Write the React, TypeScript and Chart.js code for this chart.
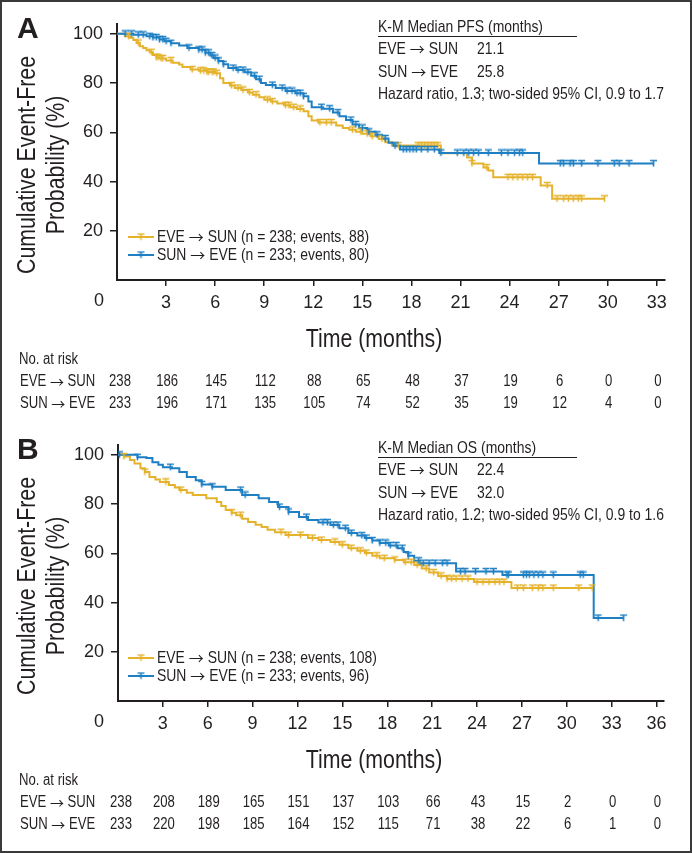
import React, { useEffect, useRef } from 'react';
import { Chart, registerables } from 'chart.js';
Chart.register(...registerables);

const YELLOW = '#E5B22C';
const BLUE = '#1E7FC3';
const INK = '#231F20';
const FONT = '"Liberation Sans", Arial, sans-serif';
const ARROW_FONT = '"Noto Sans CJK JP", "DejaVu Sans", sans-serif';
const NARROW = 0.82;

// ---------- Panel A: PFS ----------
const pfsXTicks = [3, 6, 9, 12, 15, 18, 21, 24, 27, 30, 33];
const pfsRiskTimes = [0, 3, 6, 9, 12, 15, 18, 21, 24, 27, 30, 33];
const pfsRiskEve = [238, 186, 145, 112, 88, 65, 48, 37, 19, 6, 0, 0];
const pfsRiskSun = [233, 196, 171, 135, 105, 74, 52, 35, 19, 12, 4, 0];

const pfsEveTimes = [0, 0.5, 0.8, 1.0, 1.2, 1.4, 1.6, 1.8, 2.0, 2.2, 2.4, 2.6, 3.0, 3.4, 3.8, 4.0, 4.5, 5.0, 5.5, 6.0, 6.3, 6.5, 6.9, 7.2, 7.6, 8.0, 8.3, 8.7, 9.0, 9.4, 9.8, 10.2, 10.6, 11.0, 11.4, 11.7, 11.9, 12.3, 13.4, 13.8, 14.2, 14.6, 15.0, 15.5, 16.0, 16.4, 16.8, 19.8, 21.4, 21.7, 22.4, 22.7, 23.0, 25.9, 26.6, 29.8];
const pfsEveSurv = [100, 99, 98.4, 97.5, 96.3, 95, 94.2, 93.3, 92.5, 91.4, 90.5, 90, 89.2, 88.3, 87.5, 86.5, 85.5, 85, 84.5, 84, 82, 80, 79, 78, 77.2, 76.2, 75.3, 74.2, 73.2, 72.5, 71.7, 71, 70.2, 69.5, 68.6, 66.5, 64.8, 64, 62.8, 61.8, 61, 60.2, 59.4, 58.4, 57.3, 56, 54.6, 51.5, 49.8, 47.3, 45.7, 44.5, 41.7, 38.4, 33, 33];
const pfsEveCensor = [0.7, 1.3, 2.1, 2.4, 2.5, 2.7, 2.8, 3.3, 4.6, 5.1, 5.3, 5.5, 5.6, 5.8, 5.9, 6.1, 7.0, 7.4, 7.7, 8.1, 8.5, 9.2, 9.5, 10.3, 10.5, 10.8, 11.2, 12.4, 12.8, 13.1, 14.4, 14.9, 15.3, 15.6, 16.2, 17.2, 18.4, 18.6, 18.8, 19.0, 19.2, 19.4, 19.6, 21.7, 22.6, 23.9, 24.2, 24.5, 24.8, 25.1, 25.4, 26.3, 26.9, 27.3, 27.6, 27.9, 28.2, 28.4, 29.8];

const pfsSunTimes = [0, 1.0, 1.8, 2.2, 2.6, 2.9, 3.3, 3.8, 4.3, 5.0, 5.4, 5.7, 5.9, 6.2, 6.5, 6.8, 7.3, 7.8, 8.2, 8.5, 8.8, 9.1, 9.7, 10.3, 10.9, 11.4, 11.7, 11.9, 12.6, 13.2, 13.6, 14.0, 14.4, 14.8, 15.3, 15.8, 16.2, 16.6, 16.9, 17.3, 19.7, 25.8, 32.8];
const pfsSunSurv = [100, 99.6, 99, 98.5, 97.7, 97, 96.2, 95.3, 94.3, 93.5, 92.3, 91.2, 90.2, 89, 87.6, 86.1, 85.3, 84.4, 83, 81.6, 80, 79.2, 78, 76.8, 75.9, 74.6, 72.5, 70.2, 69.6, 68, 66.5, 65, 63.2, 61.8, 60.2, 59, 57.5, 55.8, 54.5, 53, 51.6, 47.3, 47.3];
const pfsSunCensor = [0.5, 0.9, 1.3, 1.6, 2.0, 2.2, 2.4, 2.6, 2.8, 3.0, 3.3, 4.4, 5.0, 5.2, 5.4, 5.6, 5.8, 6.0, 6.2, 6.5, 7.1, 7.4, 7.7, 8.0, 8.4, 8.7, 9.5, 10.1, 10.4, 10.7, 11.0, 11.2, 11.4, 12.5, 13.0, 13.5, 14.3, 14.6, 15.0, 15.4, 15.9, 16.4, 17.0, 17.5, 17.7, 17.9, 18.1, 18.3, 18.6, 19.0, 19.4, 19.8, 20.8, 21.2, 21.5, 21.8, 22.1, 22.7, 23.5, 23.9, 24.3, 24.6, 24.8, 27.1, 27.3, 27.7, 27.9, 28.4, 29.4, 30.4, 30.7, 31.3, 32.8];

// ---------- Panel B: OS ----------
const osXTicks = [3, 6, 9, 12, 15, 18, 21, 24, 27, 30, 33, 36];
const osRiskTimes = [0, 3, 6, 9, 12, 15, 18, 21, 24, 27, 30, 33, 36];
const osRiskEve = [238, 208, 189, 165, 151, 137, 103, 66, 43, 15, 2, 0, 0];
const osRiskSun = [233, 220, 198, 185, 164, 152, 115, 71, 38, 22, 6, 1, 0];

const osEveTimes = [0, 0.4, 0.8, 1.1, 1.5, 1.8, 2.1, 2.5, 2.8, 3.4, 3.8, 4.1, 4.6, 5.0, 5.9, 6.6, 6.9, 7.2, 7.6, 7.9, 8.3, 8.7, 9.2, 9.6, 10.0, 10.5, 11.2, 12.7, 13.4, 14.2, 14.8, 15.4, 16.0, 16.5, 17.0, 17.5, 18.5, 19.1, 19.8, 20.3, 20.8, 21.4, 22.0, 23.8, 26.3, 31.7];
const osEveSurv = [100, 99.3, 97.9, 96.5, 94.6, 93, 91, 90, 89, 87.7, 86.7, 85.7, 84.6, 83.7, 82.4, 80.8, 79.2, 77.6, 76.5, 75.5, 74, 72.7, 71.6, 70.7, 69.6, 68.6, 67.4, 66.2, 65.4, 64.6, 63.5, 62.1, 61, 60.1, 59, 58, 57.3, 56.4, 55.2, 53.8, 52.2, 50.8, 49.6, 48.3, 45.9, 45.9];
const osEveCensor = [0.4, 1.8, 3.2, 4.2, 7.6, 8.2, 10.9, 11.4, 12.2, 13.0, 13.6, 14.5, 15.0, 15.6, 16.2, 16.6, 17.3, 17.8, 18.5, 19.2, 19.6, 20.0, 20.6, 21.1, 21.6, 22.0, 22.3, 22.6, 23.0, 23.4, 24.0, 24.4, 24.8, 25.2, 25.5, 25.8, 26.7, 27.1, 27.7, 28.1, 28.4, 29.1, 30.8, 31.7];

const osSunTimes = [0, 1.3, 1.9, 2.3, 2.7, 3.0, 3.6, 4.1, 4.6, 5.2, 5.6, 6.3, 7.2, 8.3, 9.4, 10.1, 10.7, 11.4, 12.1, 12.7, 13.4, 14.2, 14.8, 15.4, 16.0, 16.5, 17.0, 17.5, 18.1, 18.7, 19.1, 19.4, 19.8, 20.2, 22.6, 25.7, 31.8, 33.8];
const osSunSurv = [100, 99, 98.7, 97, 96, 95, 94.6, 93, 91, 89.7, 88, 87, 85.7, 83.7, 82.4, 80.8, 78.8, 76.8, 74.7, 73.5, 72.5, 71.5, 70.2, 68.2, 67.2, 66.2, 65.2, 64.2, 63.2, 62.1, 60.5, 59, 57, 56, 52.6, 51.2, 33.7, 33.7];
const osSunCensor = [0.1, 1.3, 3.5, 5.6, 6.3, 8.2, 8.5, 10.8, 11.4, 12.6, 13.7, 14.0, 14.4, 14.7, 15.2, 15.6, 16.3, 16.6, 17.0, 17.5, 17.9, 18.2, 18.6, 19.0, 19.4, 20.1, 20.4, 20.8, 21.2, 21.7, 22.0, 22.9, 23.2, 23.9, 24.6, 25.1, 26.0, 26.1, 27.1, 27.3, 27.5, 27.8, 28.1, 28.4, 29.1, 30.9, 31.1, 32.1, 33.8];

const yTicks = [20, 40, 60, 80, 100];

type Series = { times: number[]; surv: number[]; censor: number[]; risk: number[] };
type Panel = {
  letter: string; xMax: number; xTicks: number[]; riskTimes: number[];
  eve: Series; sun: Series; header: string; medEve: string; medSun: string; hazard: string;
  legEve: string; legSun: string; left: number; right: number; height: number;
};

const panels: Panel[] = [
  {
    letter: 'A', xMax: 33.5, xTicks: pfsXTicks, riskTimes: pfsRiskTimes,
    eve: { times: pfsEveTimes, surv: pfsEveSurv, censor: pfsEveCensor, risk: pfsRiskEve },
    sun: { times: pfsSunTimes, surv: pfsSunSurv, censor: pfsSunCensor, risk: pfsRiskSun },
    header: 'K-M Median PFS (months)', medEve: '21.1', medSun: '25.8',
    hazard: 'Hazard ratio, 1.3; two-sided 95% CI, 0.9 to 1.7',
    legEve: 'EVE \u2192 SUN (n = 238; events, 88)', legSun: 'SUN \u2192 EVE (n = 233; events, 80)',
    left: 117, right: 665, height: 421,
  },
  {
    letter: 'B', xMax: 36.5, xTicks: osXTicks, riskTimes: osRiskTimes,
    eve: { times: osEveTimes, surv: osEveSurv, censor: osEveCensor, risk: osRiskEve },
    sun: { times: osSunTimes, surv: osSunSurv, censor: osSunCensor, risk: osRiskSun },
    header: 'K-M Median OS (months)', medEve: '22.4', medSun: '32.0',
    hazard: 'Hazard ratio, 1.2; two-sided 95% CI, 0.9 to 1.6',
    legEve: 'EVE \u2192 SUN (n = 238; events, 108)', legSun: 'SUN \u2192 EVE (n = 233; events, 96)',
    left: 118, right: 664, height: 432,
  },
];

function survAt(s: Series, t: number) {
  let v = s.surv[0];
  for (let i = 0; i < s.times.length; i++) if (s.times[i] <= t) v = s.surv[i];
  return v;
}

function censorMark(color: string) {
  const c = document.createElement('canvas');
  c.width = 9; c.height = 9;
  const g = c.getContext('2d')!;
  g.strokeStyle = color; g.lineWidth = 1.6;
  g.beginPath();
  g.moveTo(1, 1.5); g.lineTo(8, 1.5);
  g.moveTo(4.5, 1.5); g.lineTo(4.5, 7.5);
  g.stroke();
  return c;
}

// draws text with a narrowed sans face; the arrow glyph comes from a font with a thin, long arrow
function drawText(ctx: CanvasRenderingContext2D, s: string, x: number, y: number, size: number,
  align: CanvasTextAlign = 'left', o: { bold?: boolean; sx?: number; rot?: number } = {}) {
  const sx = o.sx ?? NARROW;
  const textFont = `${o.bold ? 'bold ' : ''}${size}px ${FONT}`;
  const arrowFont = `${Math.round(size * 0.9)}px ${ARROW_FONT}`;
  const parts = s.split('\u2192');
  const pieces: { str: string; font: string; w: number; k: number }[] = [];
  ctx.save();
  parts.forEach((part, i) => {
    if (i > 0) {
      ctx.font = arrowFont;
      const w = ctx.measureText('\u2192').width;
      pieces.push({ str: '\u2192', font: arrowFont, w, k: 1 });
    }
    if (part.length) {
      ctx.font = textFont;
      const w = ctx.measureText(part).width * sx;
      pieces.push({ str: part, font: textFont, w, k: sx });
    }
  });
  const total = pieces.reduce((a, p) => a + p.w, 0);
  let start = align === 'center' ? -total / 2 : align === 'right' ? -total : 0;
  ctx.fillStyle = INK;
  ctx.textAlign = 'left';
  ctx.textBaseline = 'middle';
  ctx.translate(x, y);
  if (o.rot) ctx.rotate(o.rot);
  for (const p of pieces) {
    ctx.save();
    ctx.font = p.font;
    ctx.translate(start, 0);
    ctx.scale(p.k, 1);
    ctx.fillText(p.str, 0, 0);
    ctx.restore();
    start += p.w;
  }
  ctx.restore();
}

function makeDecor(p: Panel, yMark: HTMLCanvasElement, bMark: HTMLCanvasElement) {
  return {
    id: 'decor' + p.letter,
    afterDraw(chart: any) {
      const ctx: CanvasRenderingContext2D = chart.ctx;
      const xs = chart.scales.x;
      drawText(ctx, p.letter, 17, 30, 30, 'left', { bold: true, sx: 1 });
      drawText(ctx, 'Cumulative Event-Free', 28, 165, 26, 'center', { rot: -Math.PI / 2 });
      drawText(ctx, 'Probability (%)', 57, 165, 26, 'center', { rot: -Math.PI / 2 });
      drawText(ctx, '0', 99, 301, 18, 'center', { sx: 1 });
      drawText(ctx, 'Time (months)', 374, 340, 26, 'center');
      // annotation
      const ax = 378;
      drawText(ctx, p.header, ax, 27, 17);
      ctx.save();
      ctx.strokeStyle = INK; ctx.lineWidth = 1;
      ctx.beginPath(); ctx.moveTo(ax, 36.5); ctx.lineTo(577, 36.5); ctx.stroke();
      ctx.restore();
      drawText(ctx, 'EVE \u2192 SUN', ax, 49, 17);
      drawText(ctx, p.medEve, 477, 49, 17);
      drawText(ctx, 'SUN \u2192 EVE', ax, 72, 17);
      drawText(ctx, p.medSun, 477, 72, 17);
      drawText(ctx, p.hazard, ax, 94, 17);
      // legend
      const legRows: [string, string, HTMLCanvasElement, number][] = [
        [p.legEve, YELLOW, yMark, 237], [p.legSun, BLUE, bMark, 255],
      ];
      for (const [label, col, mark, y] of legRows) {
        ctx.save();
        ctx.strokeStyle = col; ctx.lineWidth = 2;
        ctx.beginPath(); ctx.moveTo(128, y); ctx.lineTo(154, y); ctx.stroke();
        ctx.drawImage(mark, 141 - 4.5, y - 4.5);
        ctx.restore();
        drawText(ctx, label, 157, y, 17);
      }
      // risk table
      drawText(ctx, 'No. at risk', 19, 360, 16);
      drawText(ctx, 'EVE \u2192 SUN', 20, 382, 16);
      drawText(ctx, 'SUN \u2192 EVE', 20, 404, 16);
      p.riskTimes.forEach((t, i) => {
        const x = xs.getPixelForValue(t) + (i === 0 ? 3 : 1);
        drawText(ctx, String(p.eve.risk[i]), x, 382, 16, 'center');
        drawText(ctx, String(p.sun.risk[i]), x, 404, 16, 'center');
      });
    },
  };
}

function KMChart({ p, top }: { p: Panel; top: number }) {
  const ref = useRef<HTMLCanvasElement>(null);
  useEffect(() => {
    const yMark = censorMark(YELLOW);
    const bMark = censorMark(BLUE);
    const line = (s: Series, col: string, order: number) => ({
      type: 'scatter' as const,
      data: s.times.map((t, i) => ({ x: t, y: s.surv[i] })),
      showLine: true, stepped: true, borderColor: col, borderWidth: 2,
      pointRadius: 0, fill: false, order,
    });
    const marks = (s: Series, img: HTMLCanvasElement, order: number) => ({
      type: 'scatter' as const,
      data: s.censor.map((t) => ({ x: t, y: survAt(s, t) })),
      showLine: false, pointStyle: img, pointRadius: 4, order,
    });
    const tickFont = { family: FONT, size: 18 };
    const chart = new Chart(ref.current!, {
      type: 'scatter',
      data: {
        datasets: [
          marks(p.sun, bMark, 0), marks(p.eve, yMark, 1),
          line(p.sun, BLUE, 2), line(p.eve, YELLOW, 3),
        ] as any,
      },
      options: {
        responsive: false, animation: false, devicePixelRatio: 1,
        layout: { padding: { top: 24, right: 692 - p.right, left: 0, bottom: 0 } },
        plugins: { legend: { display: false }, tooltip: { enabled: false } },
        events: [],
        scales: {
          x: {
            type: 'linear', min: 0, max: p.xMax,
            afterBuildTicks: (s: any) => { s.ticks = p.xTicks.map((v) => ({ value: v })); },
            afterFit: (s: any) => { s.height = p.height - 280; },
            ticks: { font: tickFont, color: INK, padding: 6, maxRotation: 0, autoSkip: false },
            grid: { display: true, drawOnChartArea: false, drawTicks: true, tickLength: 6, color: INK, lineWidth: 1.5 },
            border: { display: true, color: INK, width: 2 },
          },
          y: {
            type: 'linear', min: 0, max: 104,
            afterBuildTicks: (s: any) => { s.ticks = yTicks.map((v) => ({ value: v })); },
            afterFit: (s: any) => { s.width = p.left; },
            ticks: { font: tickFont, color: INK, padding: 7 },
            grid: { display: true, drawOnChartArea: false, drawTicks: true, tickLength: 7, color: INK, lineWidth: 1.5 },
            border: { display: true, color: INK, width: 2 },
          },
        },
      } as any,
      plugins: [makeDecor(p, yMark, bMark)],
    });
    return () => chart.destroy();
  }, [p]);
  return (
    <canvas ref={ref} width={692} height={p.height}
      style={{ position: 'absolute', left: 0, top, width: 692, height: p.height }} />
  );
}

export default function App() {
  return (
    <div style={{ position: 'absolute', left: 0, top: 0, width: 692, height: 853, background: '#fff' }}>
      <KMChart p={panels[0]} top={0} />
      <KMChart p={panels[1]} top={421} />
      <div style={{ position: 'absolute', inset: 0, border: '2px solid #3a3a3a', pointerEvents: 'none' }} />
    </div>
  );
}
